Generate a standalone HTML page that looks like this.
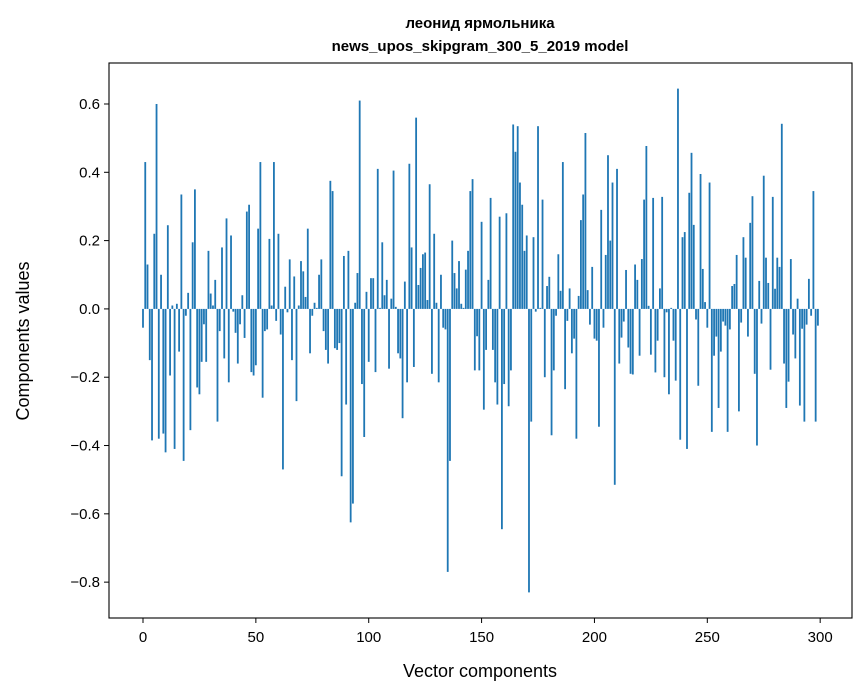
<!DOCTYPE html>
<html><head><meta charset="utf-8"><style>
html,body{margin:0;padding:0;background:#fff}
svg{display:block;font-family:"Liberation Sans","DejaVu Sans",sans-serif}
</style></head><body>
<svg id="chart" width="867" height="696" viewBox="0 0 867 696" xmlns="http://www.w3.org/2000/svg">
<text x="480" y="28" font-size="15" font-weight="bold" text-anchor="middle">леонид ярмольника</text>
<text x="480" y="51" font-size="15" font-weight="bold" text-anchor="middle">news_upos_skipgram_300_5_2019 model</text>
<g id="bars"></g>
<g id="xticks"></g>
<g id="yticks"></g>
<rect x="109" y="63" width="743" height="555" fill="none" stroke="#000" stroke-width="1.1"/>
<text x="480" y="677" font-size="18" text-anchor="middle">Vector components</text>
<text x="0" y="0" font-size="18" text-anchor="middle" transform="translate(29,341) rotate(-90)">Components values</text>
</svg>
<script>
const values = [-0.055,0.43,0.13,-0.15,-0.385,0.22,0.60,-0.38,0.10,-0.365,
-0.42,0.245,-0.195,0.01,-0.41,0.015,-0.125,0.335,-0.445,-0.02,
0.047,-0.355,0.195,0.35,-0.23,-0.25,-0.155,-0.045,-0.155,0.17,
0.045,0.01,0.085,-0.33,-0.065,0.18,-0.145,0.265,-0.215,0.215,
-0.008,-0.07,-0.16,-0.045,0.04,-0.085,0.285,0.305,-0.185,-0.195,
-0.165,0.235,0.43,-0.26,-0.065,-0.06,0.205,0.01,0.43,-0.035,
0.22,-0.075,-0.47,0.065,-0.01,0.145,-0.15,0.095,-0.27,0.01,
0.14,0.11,0.035,0.235,-0.13,-0.02,0.018,0.003,0.10,0.145,
-0.065,-0.12,-0.16,0.375,0.345,-0.115,-0.12,-0.1,-0.49,0.155,
-0.28,0.17,-0.625,-0.57,0.018,0.105,0.61,-0.22,-0.375,0.05,
-0.155,0.09,0.09,-0.185,0.41,0.003,0.195,0.04,0.085,-0.175,
0.03,0.405,0.006,-0.13,-0.145,-0.32,0.08,-0.215,0.425,0.18,
-0.17,0.56,0.07,0.12,0.16,0.165,0.026,0.365,-0.19,0.22,
0.018,-0.215,0.10,-0.055,-0.06,-0.77,-0.445,0.2,0.105,0.06,
0.14,0.015,0.003,0.115,0.17,0.345,0.38,-0.18,-0.08,-0.18,
0.255,-0.295,-0.12,0.085,0.325,-0.12,-0.215,-0.28,0.27,-0.645,
-0.22,0.28,-0.285,-0.18,0.54,0.46,0.535,0.37,0.305,0.17,
0.215,-0.83,-0.33,0.21,-0.008,0.535,0.003,0.32,-0.2,0.067,
0.094,-0.37,-0.18,-0.02,0.16,0.053,0.43,-0.235,-0.035,0.06,
-0.13,-0.087,-0.38,0.038,0.26,0.335,0.515,0.055,-0.046,0.123,
-0.087,-0.093,-0.345,0.29,-0.055,0.158,0.45,0.2,0.37,-0.515,
0.41,-0.16,-0.084,-0.037,0.114,-0.113,-0.19,-0.192,0.13,0.085,
-0.137,0.146,0.32,0.477,0.009,-0.134,0.325,-0.186,-0.093,0.06,
0.328,-0.2,-0.01,-0.25,0.003,-0.093,-0.21,0.645,-0.383,0.21,
0.225,-0.41,0.34,0.457,0.246,-0.031,-0.225,0.395,0.117,0.02,
-0.055,0.37,-0.36,-0.137,-0.081,-0.29,-0.125,-0.037,-0.049,-0.36,
-0.06,0.067,0.073,0.158,-0.3,-0.04,0.21,0.15,-0.081,0.252,
0.33,-0.19,-0.4,0.082,-0.043,0.39,0.15,0.076,-0.178,0.328,
0.059,0.15,0.123,0.542,-0.16,-0.29,-0.213,0.146,-0.075,-0.145,
0.03,-0.283,-0.058,-0.33,-0.046,0.088,-0.02,0.345,-0.33,-0.049];
const xTickValues = [0,50,100,150,200,250,300];
const yTickValues = [-0.8,-0.6,-0.4,-0.2,0.0,0.2,0.4,0.6];

const L=109,R=852,T=63,B=618;
const xMin=-15.06,xMax=314.1,yMin=-0.905,yMax=0.720;
function xs(v){return L+(v-xMin)/(xMax-xMin)*(R-L);}
function ys(v){return B-(v-yMin)/(yMax-yMin)*(B-T);}
const NS="http://www.w3.org/2000/svg";
const bars=document.getElementById('bars');
const bw=(xs(0.8)-xs(0));
values.forEach((v,i)=>{
  const r=document.createElementNS(NS,'rect');
  const y0=ys(0),y1=ys(v);
  r.setAttribute('x',xs(i)-bw/2);
  r.setAttribute('width',bw);
  r.setAttribute('y',Math.min(y0,y1));
  r.setAttribute('height',Math.abs(y1-y0));
  r.setAttribute('fill','#1f77b4');
  
  
  bars.appendChild(r);
});
const xg=document.getElementById('xticks');
xTickValues.forEach(t=>{
  const x=xs(t);
  const l=document.createElementNS(NS,'line');
  l.setAttribute('x1',x);l.setAttribute('x2',x);l.setAttribute('y1',B);l.setAttribute('y2',B+5);
  l.setAttribute('stroke','#000');
  
  
  xg.appendChild(l);
  const tx=document.createElementNS(NS,'text');
  tx.setAttribute('x',x);tx.setAttribute('y',B+24);tx.setAttribute('font-size','15');tx.setAttribute('text-anchor','middle');
  tx.textContent=String(t);
  
  
  xg.appendChild(tx);
});
const yg=document.getElementById('yticks');
yTickValues.forEach(t=>{
  const y=ys(t);
  const l=document.createElementNS(NS,'line');
  l.setAttribute('x1',L-5);l.setAttribute('x2',L);l.setAttribute('y1',y);l.setAttribute('y2',y);
  l.setAttribute('stroke','#000');
  
  
  yg.appendChild(l);
  const tx=document.createElementNS(NS,'text');
  tx.setAttribute('x',L-9);tx.setAttribute('y',y+5);tx.setAttribute('font-size','15');tx.setAttribute('text-anchor','end');
  tx.textContent=(t<0?'\u2212':'')+Math.abs(t).toFixed(1);
  
  
  yg.appendChild(tx);
});
</script>
</body></html>
